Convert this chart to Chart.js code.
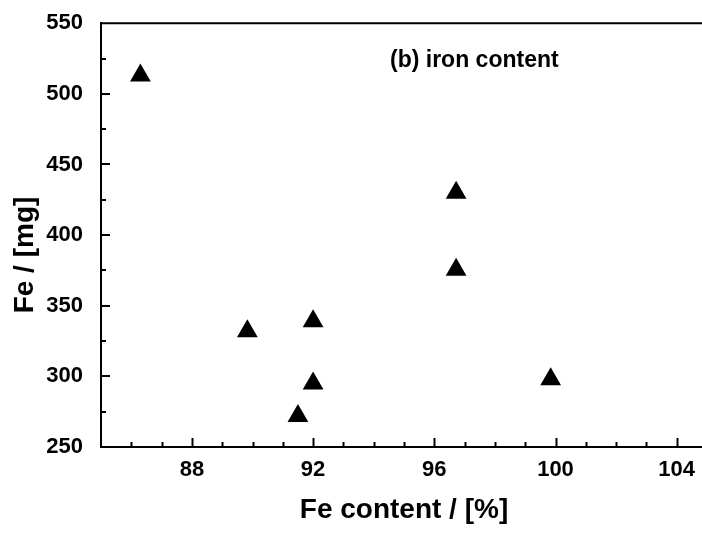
<!DOCTYPE html>
<html>
<head>
<meta charset="utf-8">
<script src="https://cdn.jsdelivr.net/npm/chart.js@4.4.0/dist/chart.umd.min.js"></script>
<style>
  html, body { margin: 0; padding: 0; background: #fff; overflow: hidden; }
  #hierroChart { display: block; }
</style>
</head>
<body>
<!-- el lienzo es algo mas ancho que la ventana: el borde derecho del marco queda fuera -->
<canvas id="hierroChart" width="719" height="535"></canvas>
<script>
// Contenido de Fe (%) y masa de Fe (mg) de cada muestra
const contenidoFe = [86.3, 89.83, 92.0, 92.0, 91.5, 96.72, 96.72, 99.84];
const masaFe = [513, 332, 339, 295, 272, 430, 375.5, 298];

// Marcas con etiqueta
const ticksX = [88, 92, 96, 100, 104];
const ticksY = [250, 300, 350, 400, 450, 500, 550];

const tituloX = 'Fe content / [%]';
const tituloY = 'Fe / [mg]';
const nota = '(b) iron content';

const fuente = '"Liberation Sans", Arial, sans-serif';

const puntos = contenidoFe.map((x, i) => ({ x: x, y: masaFe[i] }));

// Dibuja las marcas hacia dentro, la linea superior y los textos
const marcasYTextos = {
  id: 'marcasYTextos',
  afterDraw(chart) {
    const ctx = chart.ctx;
    const area = chart.chartArea;
    const sx = chart.scales.x;
    const sy = chart.scales.y;

    ctx.save();
    ctx.strokeStyle = '#000';
    ctx.lineWidth = 2;

    // linea superior del marco
    ctx.beginPath();
    ctx.moveTo(area.left, area.top);
    ctx.lineTo(area.right, area.top);
    ctx.stroke();

    // marcas del eje x (mayores cada 4, menores cada 1)
    for (let v = sx.min + 1; v < sx.max; v++) {
      const px = Math.round(sx.getPixelForValue(v)) + 0.5;
      const largo = ticksX.includes(v) ? 9 : 5;
      ctx.beginPath();
      ctx.moveTo(px, area.bottom);
      ctx.lineTo(px, area.bottom - largo);
      ctx.stroke();
    }

    // marcas del eje y (mayores cada 50, menores cada 25)
    for (let v = sy.min + 25; v < sy.max; v += 25) {
      const py = Math.round(sy.getPixelForValue(v));
      const largo = ticksY.includes(v) ? 9 : 5;
      ctx.beginPath();
      ctx.moveTo(area.left, py);
      ctx.lineTo(area.left + largo, py);
      ctx.stroke();
    }

    ctx.fillStyle = '#000';

    // titulo eje x
    ctx.font = 'bold 28px ' + fuente;
    ctx.textAlign = 'center';
    ctx.textBaseline = 'alphabetic';
    ctx.fillText(tituloX, (area.left + area.right) / 2, 518);

    // titulo eje y
    ctx.save();
    ctx.translate(33, 255);
    ctx.rotate(-Math.PI / 2);
    ctx.fillText(tituloY, 0, 0);
    ctx.restore();

    // nota dentro del grafico
    ctx.font = 'bold 23px ' + fuente;
    ctx.textAlign = 'left';
    ctx.textBaseline = 'middle';
    ctx.fillText(nota, 390, 61);

    ctx.restore();
  }
};

new Chart(document.getElementById('hierroChart').getContext('2d'), {
  type: 'scatter',
  data: {
    datasets: [{
      data: puntos,
      pointStyle: 'triangle',
      pointRadius: 12,
      pointHoverRadius: 12,
      backgroundColor: '#000',
      borderColor: '#000',
      borderWidth: 0
    }]
  },
  options: {
    responsive: false,
    animation: false,
    layout: { padding: { top: 21, left: 0, right: 0, bottom: 0 } },
    plugins: {
      legend: { display: false },
      tooltip: { enabled: false }
    },
    scales: {
      x: {
        type: 'linear',
        min: 85,
        max: 105,
        grid: { display: false },
        border: { display: true, color: '#000', width: 2 },
        ticks: {
          color: '#000',
          padding: 2,
          font: { family: fuente, size: 22, weight: 'bold' }
        },
        afterBuildTicks: (scale) => {
          scale.ticks = ticksX.map(v => ({ value: v }));
        },
        afterFit: (scale) => {
          scale.height = 88;
          scale.paddingLeft = 0;
          scale.paddingRight = 0;
        }
      },
      y: {
        type: 'linear',
        min: 250,
        max: 550,
        grid: { display: false },
        border: { display: true, color: '#000', width: 2 },
        ticks: {
          color: '#000',
          padding: 10,
          font: { family: fuente, size: 22, weight: 'bold' }
        },
        afterBuildTicks: (scale) => {
          scale.ticks = ticksY.map(v => ({ value: v }));
        },
        afterFit: (scale) => {
          scale.width = 101;
        }
      }
    }
  },
  plugins: [marcasYTextos]
});
</script>
</body>
</html>
